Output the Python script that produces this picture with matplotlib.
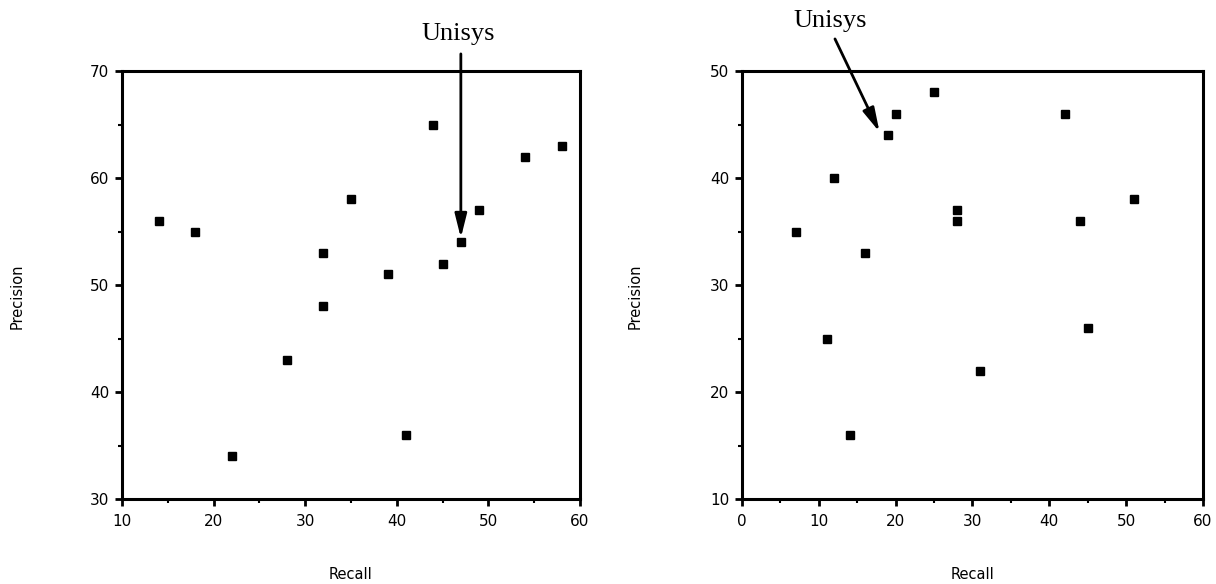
import matplotlib
matplotlib.use('Agg')
import matplotlib.pyplot as plt
from matplotlib.ticker import MultipleLocator

# Левая диаграмма
recall_a = [14, 18, 22, 28, 32, 32, 35, 39, 41, 44, 45, 47, 49, 54, 58]
precision_a = [56, 55, 34, 43, 53, 48, 58, 51, 36, 65, 52, 54, 57, 62, 63]
unisys_a = (47, 54.4)

# Правая диаграмма
recall_b = [7, 11, 12, 14, 16, 19, 20, 25, 28, 28, 31, 42, 44, 45, 51]
precision_b = [35, 25, 40, 16, 33, 44, 46, 48, 37, 36, 22, 46, 36, 26, 38]
unisys_b = (17.9, 44.3)

fig = plt.figure(figsize=(12.16, 5.84), dpi=100)
ax1 = fig.add_axes([0.1003, 0.1455, 0.3766, 0.7329])
ax2 = fig.add_axes([0.6102, 0.1455, 0.3791, 0.7329])


def style(ax, xlim, ylim, ylab_x):
    ax.set_xlim(*xlim)
    ax.set_ylim(*ylim)
    ax.xaxis.set_major_locator(MultipleLocator(10))
    ax.yaxis.set_major_locator(MultipleLocator(10))
    ax.xaxis.set_minor_locator(MultipleLocator(5))
    ax.yaxis.set_minor_locator(MultipleLocator(5))
    ax.tick_params(which='major', direction='out', length=5, width=2, labelsize=11)
    ax.tick_params(which='minor', direction='out', length=3, width=1.5)
    ax.tick_params(axis='x', pad=6)
    ax.tick_params(axis='y', pad=4)
    for s in ax.spines.values():
        s.set_linewidth(2.2)
    ax.set_xlabel('Recall', fontsize=10.5)
    ax.set_ylabel('Precision', fontsize=10.5)
    ax.xaxis.set_label_coords(0.5, -0.158)
    ax.yaxis.set_label_coords(ylab_x, 0.474)


arrow = dict(arrowstyle='-|>,head_length=1.44,head_width=0.36',
             color='black', lw=2, shrinkA=0, shrinkB=0, mutation_scale=10)

ax1.plot(recall_a, precision_a, 's', color='black', markersize=6, clip_on=False)
style(ax1, (10, 60), (30, 70), -0.212)
ax1.text(46.7, 73.5, 'Unisys', ha='center', va='center', fontsize=19,
         family='Liberation Serif', clip_on=False)
ax1.annotate('', xy=unisys_a, xytext=(47, 71.6), annotation_clip=False,
             arrowprops=arrow)

ax2.plot(recall_b, precision_b, 's', color='black', markersize=6, clip_on=False)
style(ax2, (0, 60), (10, 50), -0.215)
ax2.text(11.5, 54.7, 'Unisys', ha='center', va='center', fontsize=19,
         family='Liberation Serif', clip_on=False)
ax2.annotate('', xy=unisys_b, xytext=(12.1, 53.0), annotation_clip=False,
             arrowprops=arrow)

plt.savefig('out.png', dpi=100)
